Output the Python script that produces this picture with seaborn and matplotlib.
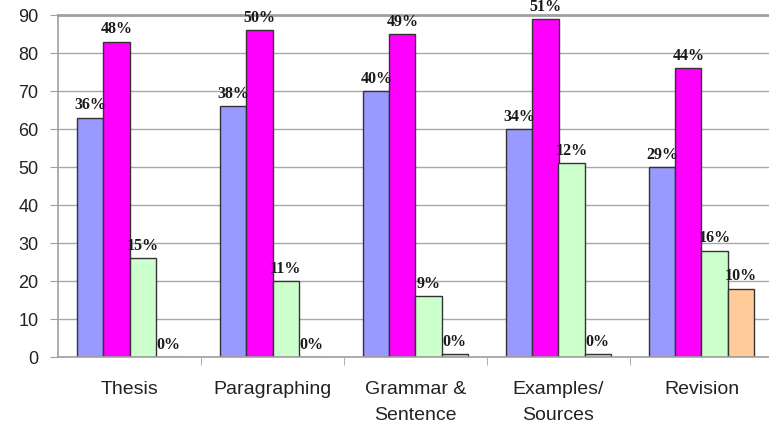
import matplotlib
matplotlib.use("Agg")
import matplotlib.pyplot as plt
import seaborn as sns
import pandas as pd
from matplotlib.ticker import FixedLocator

categories = ["Thesis", "Paragraphing", "Grammar &\nSentence", "Examples/\nSources", "Revision"]
series_names = ["Series 1", "Series 2", "Series 3", "Series 4"]
series1 = [63, 66, 70, 60, 50]
series2 = [83, 86, 85, 89, 76]
series3 = [26, 20, 16, 51, 28]
series4 = [0, 0, 0.8, 0.8, 18]
labels1 = ["36%", "38%", "40%", "34%", "29%"]
labels2 = ["48%", "50%", "49%", "51%", "44%"]
labels3 = ["15%", "11%", "9%", "12%", "16%"]
labels4 = ["0%", "0%", "0%", "0%", "10%"]
colors = ["#9999FF", "#FF00FF", "#CCFFCC", "#FFCC99"]

all_vals = [series1, series2, series3, series4]
all_labels = [labels1, labels2, labels3, labels4]
rows = []
for name, vals in zip(series_names, all_vals):
    for c, v in zip(categories, vals):
        rows.append({"category": c, "series": name, "value": v})
df = pd.DataFrame(rows)

sns.set_style("white")
fig = plt.figure(figsize=(7.69, 4.28), dpi=100)
ax = fig.add_axes([58 / 769, (428 - 357) / 428, 715 / 769, (357 - 15) / 428])

sns.barplot(data=df, x="category", y="value", hue="series", order=categories,
            hue_order=series_names, palette=colors, width=0.728, gap=0,
            edgecolor="#333333", linewidth=1.0, saturation=1, ax=ax, legend=False,
            errorbar=None)

for cont, labs in zip(ax.containers, all_labels):
    ax.bar_label(cont, labels=labs, padding=3, fontsize=11.5, fontweight="bold",
                 family="Liberation Serif", color="#1a1a1a")

ax.set_ylim(0, 90)
ax.set_xlim(-0.5, 4.5)
ax.set_yticks(range(0, 91, 10))
ax.yaxis.grid(True, color="#A8A8A8", linewidth=1)
ax.set_axisbelow(True)
ax.set_xlabel("")
ax.set_ylabel("")

ax.spines["right"].set_visible(False)
ax.spines["top"].set_color("#A0A0A0")
ax.spines["top"].set_linewidth(2)
ax.spines["left"].set_color("#A0A0A0")
ax.spines["bottom"].set_color("#A0A0A0")
ax.spines["left"].set_linewidth(1.2)
ax.spines["bottom"].set_linewidth(1.2)

ax.tick_params(axis="y", which="major", length=6, color="#A0A0A0", labelsize=13,
               pad=8, left=True)
ax.tick_params(axis="x", which="major", length=0, labelsize=14, pad=17)
ax.xaxis.set_minor_locator(FixedLocator([0.5, 1.5, 2.5, 3.5]))
ax.tick_params(axis="x", which="minor", length=6, color="#A0A0A0", bottom=True)

for t in ax.get_yticklabels() + ax.get_xticklabels():
    t.set_family("Liberation Sans")
    t.set_color("#222222")
for t in ax.get_xticklabels():
    t.set_linespacing(1.7)

fig.savefig("out.png", dpi=100, facecolor="white")
